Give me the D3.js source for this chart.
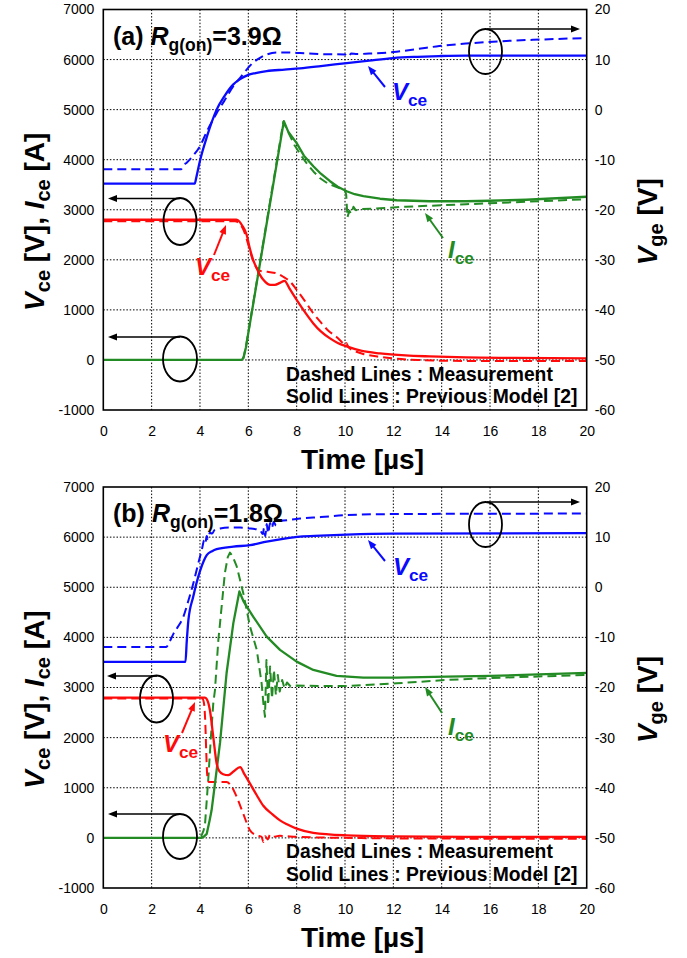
<!DOCTYPE html>
<html><head><meta charset="utf-8">
<script src="https://cdn.jsdelivr.net/npm/d3@7"></script>
<style>body{margin:0;background:#fff} svg{display:block} text{white-space:pre}</style>
</head><body><svg id="c" width="687" height="958"></svg>
<script>
// ---------- axis ticks ----------
const xTicks = [0,2,4,6,8,10,12,14,16,18,20];
const leftTicks = [-1000,0,1000,2000,3000,4000,5000,6000,7000];
const rightTicks = [-60,-50,-40,-30,-20,-10,0,10,20];

// ---------- panel (a) Rg(on)=3.9 ohm : [time us, value] ----------
const aVgeSim = [[0,-14.8],[3.78,-14.8],[3.85,-13.5],[4.0,-10.2],[4.3,-5.2],[4.69,0],[5.0,2.6],[5.37,5.0],[5.7,6.2],[5.93,6.8],[6.3,7.3],[6.76,7.7],[7.5,8.0],[8.14,8.25],[9.0,8.7],[10.07,9.3],[11,9.8],[12,10.3],[13,10.55],[13.9,10.7],[15,10.8],[20,10.8]];
const aVgeMeas = [[0,-11.9],[3.22,-11.9],[3.3,-11.2],[3.45,-10.6],[3.7,-9.3],[4.0,-7.3],[4.3,-4.2],[4.69,-0.7],[5.0,1.7],[5.38,4.7],[5.7,6.6],[5.93,8.0],[6.2,9.4],[6.5,10.4],[6.76,11.0],[7.17,11.4],[7.6,11.4],[8.14,11.3],[9,11.1],[10.0,11.0],[10.15,10.6],[10.25,11.2],[10.5,11.1],[11,11.2],[12,11.5],[13,12.1],[13.9,12.7],[15,13.2],[15.9,13.5],[17,13.8],[18.07,14.0],[20,14.3]];
const aVceSim = [[0,2800],[5.5,2800],[5.62,2770],[5.75,2680],[5.93,2500],[6.05,2250],[6.2,2000],[6.35,1830],[6.48,1700],[6.7,1560],[6.9,1500],[7.1,1500],[7.31,1540],[7.5,1580],[7.7,1430],[8.0,1200],[8.35,950],[8.69,730],[9.0,570],[9.38,430],[9.7,340],[10.07,270],[10.7,180],[11.45,130],[12.5,90],[13.5,70],[15,50],[17,40],[20,30]];
const aVceMeas = [[0,2770],[5.45,2770],[5.6,2740],[5.8,2600],[6.0,2300],[6.15,2050],[6.3,1870],[6.48,1780],[6.8,1760],[7.17,1730],[7.45,1660],[7.72,1570],[8.0,1400],[8.35,1170],[8.69,930],[9.0,750],[9.3,590],[9.65,460],[9.95,320],[10.0,300],[10.05,340],[10.15,250],[10.4,180],[10.76,120],[11.45,60],[12,30],[13,0],[15,-20],[17,-20],[20,-20]];
const aIceSim = [[0,0],[5.72,0],[5.8,40],[5.9,250],[7.47,4770],[7.65,4560],[8.0,4330],[8.3,4080],[8.69,3870],[9.0,3720],[9.38,3570],[9.7,3460],[10.07,3370],[10.4,3310],[10.76,3270],[11.45,3220],[12.14,3190],[13.5,3170],[15,3170],[16,3180],[17.5,3200],[20,3260]];
const aIceMeas = [[0,0],[5.72,0],[5.8,50],[5.9,260],[7.45,4760],[7.6,4600],[7.9,4300],[8.2,4070],[8.41,3930],[8.7,3760],[8.97,3630],[9.3,3520],[9.79,3430],[10.0,3390],[10.05,3300],[10.1,2850],[10.18,2980],[10.25,2920],[10.35,3060],[10.45,2990],[10.6,3010],[11.45,3030],[12.5,3060],[13.5,3080],[15,3110],[16.5,3140],[18,3170],[20,3210]];

// ---------- panel (b) Rg(on)=1.8 ohm ----------
const bVgeSim = [[0,-14.9],[3.4,-14.9],[3.45,-11],[3.52,-6.6],[3.72,-1.9],[4.0,3.2],[4.15,5.2],[4.28,6.4],[4.5,7.2],[4.69,7.6],[5.38,8.1],[6.07,8.4],[6.76,9.1],[7.5,9.7],[8.14,10.1],[9,10.3],[10.07,10.5],[12,10.7],[20,10.8]];
const bVgeMeas = [[0,-11.9],[2.6,-11.9],[2.75,-10.8],[2.9,-9.3],[3.1,-7.8],[3.31,-5.9],[3.5,-3.0],[3.72,0.7],[3.9,4.2],[4.0,6.1],[4.1,8.0],[4.17,9.4],[4.22,8.8],[4.28,10.2],[4.33,9.6],[4.41,10.9],[4.5,10.7],[4.6,11.4],[4.83,11.7],[5.2,11.9],[5.66,11.9],[6.1,11.7],[6.48,11.4],[6.6,10.6],[6.65,11.8],[6.7,10.2],[6.76,12.6],[6.82,10.8],[6.9,12.8],[6.97,11.8],[7.05,13.0],[7.15,12.3],[7.25,13.2],[7.45,13.3],[8.14,13.7],[9,14.0],[10.07,14.4],[12,14.6],[20,14.7]];
const bVceSim = [[0,2800],[4.2,2800],[4.28,2770],[4.41,2550],[4.55,2016],[4.69,1484],[4.8,1330],[4.96,1270],[5.17,1250],[5.4,1330],[5.66,1410],[5.85,1260],[6.07,1084],[6.35,850],[6.62,640],[7.0,470],[7.31,350],[7.6,270],[8.0,184],[8.69,100],[10.07,50],[12,30],[15,20],[20,20]];
const bVceMeas = [[0,2780],[4.1,2780],[4.16,2700],[4.22,2300],[4.26,1700],[4.3,1250],[4.36,1116],[4.8,1116],[5.1,1116],[5.3,1030],[5.52,816],[5.79,484],[6.07,150],[6.35,50],[6.55,20],[6.62,-80],[6.7,30],[6.8,-30],[6.9,60],[7.0,20],[7.3,40],[8,20],[10,0],[12,-10],[20,-20]];
const bIceSim = [[0,0],[4.05,0],[4.15,20],[4.28,80],[4.4,350],[4.48,550],[4.62,1084],[4.83,1900],[5.1,3284],[5.38,4284],[5.63,4916],[5.8,4720],[6.2,4416],[6.76,4016],[7.31,3750],[8.0,3516],[8.69,3350],[9.65,3230],[10.76,3196],[12.14,3196],[14.2,3216],[16,3230],[18,3260],[20,3290]];
const bIceMeas = [[0,0],[3.95,0],[4.05,30],[4.15,150],[4.21,284],[4.34,1150],[4.45,2000],[4.55,2684],[4.62,2950],[4.76,3950],[4.83,4284],[5.03,5284],[5.15,5600],[5.24,5690],[5.35,5620],[5.52,5416],[5.79,4884],[6.07,4216],[6.35,3750],[6.55,3084],[6.62,2700],[6.69,2416],[6.75,3550],[6.82,2650],[6.9,3420],[6.98,2780],[7.06,3350],[7.14,2850],[7.22,3250],[7.3,2920],[7.4,3150],[7.5,2980],[7.6,3100],[7.75,3020],[8.0,3040],[9,3030],[10.07,3030],[12.14,3084],[14.2,3150],[16,3190],[18,3220],[20,3250]];

// ---------- styling / layout ----------
const FONT = "'Liberation Sans', Arial, Helvetica, sans-serif";
const BLUE = "#0a0aff", RED = "#ff0a0a", GREEN = "#238b23";
const X0 = 103.3, X1 = 586.7;

const panels = [
  {label:"(a) ", rg:"=3.9\u03A9", top:9.5, bottom:410,
   s:{vgeSim:aVgeSim, vgeMeas:aVgeMeas, vceSim:aVceSim, vceMeas:aVceMeas, iceSim:aIceSim, iceMeas:aIceMeas},
   ann:{blueLab:[392,100], blueArr:[385,87,368,66], redLab:[195,275], redArr:[214,255,226,225],
        greenLab:[448,258], greenArr:[443,238,425,213],
        ellR:[485.5,51.5], arrR:[487,29,580], ellRed:[180,221.5], arrRed:[180,198.5,108], ellG:[180,359], arrG:[180,337,108]}},
  {label:"(b) ", rg:"=1.8\u03A9", top:487, bottom:888,
   s:{vgeSim:bVgeSim, vgeMeas:bVgeMeas, vceSim:bVceSim, vceMeas:bVceMeas, iceSim:bIceSim, iceMeas:bIceMeas},
   ann:{blueLab:[393,575], blueArr:[385,561,368,540], redLab:[163,752], redArr:[182,733,195,702],
        greenLab:[448,735], greenArr:[442,713,425,687],
        ellR:[485.5,524.5], arrR:[487,502,580], ellRed:[156.5,699], arrRed:[157,676,107], ellG:[180,836.5], arrG:[180,814,108]}}
];

const svg = d3.select("#c");
svg.append("rect").attr("width",687).attr("height",958).attr("fill","#fff");

function arrow(g, x1,y1,x2,y2,color,w,hl,hw){
  const dx=x2-x1, dy=y2-y1, L=Math.hypot(dx,dy), ux=dx/L, uy=dy/L;
  const bx=x2-ux*hl, by=y2-uy*hl;
  g.append("line").attr("x1",x1).attr("y1",y1).attr("x2",bx+ux*1).attr("y2",by+uy*1)
    .attr("stroke",color).attr("stroke-width",w);
  g.append("path").attr("d",`M${x2},${y2}L${bx-uy*hw/2},${by+ux*hw/2}L${bx+uy*hw/2},${by-ux*hw/2}Z`).attr("fill",color);
}

function subLabel(g, x, y, main, sub, color, size){
  const t = g.append("text").attr("x",x).attr("y",y).attr("fill",color)
    .attr("font-family",FONT).attr("font-weight","bold").attr("font-size",size);
  t.append("tspan").attr("font-style","italic").text(main);
  t.append("tspan").attr("font-size",size*0.72).attr("dy",6).text(sub);
}

const fmt = d => String(d);

panels.forEach(p => {
  const g = svg.append("g");
  const x = d3.scaleLinear().domain([0,20]).range([X0,X1]);
  const yL = d3.scaleLinear().domain([-1000,7000]).range([p.bottom,p.top]);
  const yR = d3.scaleLinear().domain([-60,20]).range([p.bottom,p.top]);

  // grid
  const grid = g.append("g").attr("stroke","#000").attr("stroke-width",1).attr("stroke-dasharray","1.5,1.8");
  xTicks.slice(1,-1).forEach(t => grid.append("line").attr("x1",x(t)).attr("x2",x(t)).attr("y1",p.top).attr("y2",p.bottom));
  leftTicks.slice(1,-1).forEach(t => grid.append("line").attr("x1",X0).attr("x2",X1).attr("y1",yL(t)).attr("y2",yL(t)));

  // axes
  const ax = (sel) => sel.call(s => { s.select(".domain").remove(); s.selectAll("line").remove();
     s.selectAll("text").attr("font-family",FONT).attr("font-size",14).attr("fill","#000"); });
  g.append("g").attr("transform",`translate(${X0},0)`).call(d3.axisLeft(yL).tickValues(leftTicks).tickSize(0).tickPadding(9).tickFormat(fmt)).call(ax);
  g.append("g").attr("transform",`translate(${X1},0)`).call(d3.axisRight(yR).tickValues(rightTicks).tickSize(0).tickPadding(8).tickFormat(fmt)).call(ax);
  g.append("g").attr("transform",`translate(0,${p.bottom})`).call(d3.axisBottom(x).tickValues(xTicks).tickSize(0).tickPadding(16).tickFormat(fmt)).call(ax);

  // curves
  const lineL = (c) => d3.line().x(d=>x(d[0])).y(d=>yL(d[1])).curve(c);
  const lineR = (c) => d3.line().x(d=>x(d[0])).y(d=>yR(d[1])).curve(c);
  const draw = (data, gen, color, dashed) => g.append("path").datum(data).attr("d",gen)
     .attr("fill","none").attr("stroke",color).attr("stroke-width",dashed?2.0:2.3)
     .attr("stroke-dasharray",dashed?"9,5":null).attr("stroke-linejoin","round");
  draw(p.s.iceMeas, lineL(d3.curveLinear), GREEN, true);
  draw(p.s.vceMeas, lineL(d3.curveMonotoneX), RED, true);
  draw(p.s.vgeMeas, lineR(d3.curveMonotoneX), BLUE, true);
  draw(p.s.iceSim, lineL(d3.curveLinear), GREEN, false);
  draw(p.s.vceSim, lineL(d3.curveMonotoneX), RED, false);
  draw(p.s.vgeSim, lineR(d3.curveMonotoneX), BLUE, false);

  // frame
  g.append("rect").attr("x",X0).attr("y",p.top).attr("width",X1-X0).attr("height",p.bottom-p.top)
    .attr("fill","none").attr("stroke","#000").attr("stroke-width",1.6);

  // title
  const tt = g.append("text").attr("x",113).attr("y",p.top+35).attr("font-family",FONT).attr("font-weight","bold").attr("font-size",25);
  tt.append("tspan").text(p.label);
  tt.append("tspan").attr("font-style","italic").text("R");
  tt.append("tspan").attr("font-size",17.5).attr("dy",6).text("g(on)");
  tt.append("tspan").attr("dy",-6).text(p.rg);

  // legend text
  ["Dashed Lines : Measurement","Solid Lines : Previous Model [2]"].forEach((s,i) =>
    g.append("text").attr("x",286).attr("y",p.top+371+i*22.5).attr("font-family",FONT).attr("font-weight","bold").attr("font-size",19.3).text(s));

  // axis titles
  g.append("text").attr("x",362.5).attr("y",p.bottom+59).attr("text-anchor","middle").attr("font-family",FONT)
    .attr("font-weight","bold").attr("font-size",28).text("Time [\u00B5s]");
  const cy = (p.top+p.bottom)/2 + 12;
  const yl = g.append("text").attr("transform",`translate(44,${cy}) rotate(-90)`).attr("text-anchor","middle")
    .attr("font-family",FONT).attr("font-weight","bold").attr("font-size",28);
  yl.append("tspan").attr("font-style","italic").text("V");
  yl.append("tspan").attr("font-size",20).attr("dy",6).text("ce");
  yl.append("tspan").attr("dy",-6).text(" [V], ");
  yl.append("tspan").attr("font-style","italic").text("I");
  yl.append("tspan").attr("font-size",20).attr("dy",6).text("ce");
  yl.append("tspan").attr("dy",-6).text(" [A]");
  const yr = g.append("text").attr("transform",`translate(657,${cy}) rotate(-90)`).attr("text-anchor","middle")
    .attr("font-family",FONT).attr("font-weight","bold").attr("font-size",28);
  yr.append("tspan").attr("font-style","italic").text("V");
  yr.append("tspan").attr("font-size",20).attr("dy",6).text("ge");
  yr.append("tspan").attr("dy",-6).text(" [V]");

  // curve labels
  const a = p.ann;
  subLabel(g, a.blueLab[0], a.blueLab[1], "V", "ce", BLUE, 24);
  arrow(g, ...a.blueArr, BLUE, 2, 9, 7);
  subLabel(g, a.redLab[0], a.redLab[1], "V", "ce", RED, 24);
  arrow(g, ...a.redArr, RED, 2, 9, 7);
  subLabel(g, a.greenLab[0], a.greenLab[1], "I", "ce", GREEN, 24);
  arrow(g, ...a.greenArr, GREEN, 2, 9, 7);

  // ellipses with axis arrows
  [[a.ellR,16.5,22.5],[a.ellRed,16.5,23.5],[a.ellG,17,22.5]].forEach(([c,rx,ry]) =>
    g.append("ellipse").attr("cx",c[0]).attr("cy",c[1]).attr("rx",rx).attr("ry",ry).attr("fill","none").attr("stroke","#000").attr("stroke-width",1.8));
  arrow(g, a.arrR[0], a.arrR[1], a.arrR[2], a.arrR[1], "#000", 1.6, 9, 7);
  arrow(g, a.arrRed[0], a.arrRed[1], a.arrRed[2], a.arrRed[1], "#000", 1.6, 9, 7);
  arrow(g, a.arrG[0], a.arrG[1], a.arrG[2], a.arrG[1], "#000", 1.6, 9, 7);
});
</script></body></html>
